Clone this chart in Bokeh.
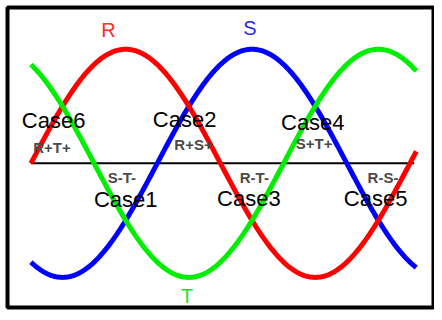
import numpy as np
from bokeh.plotting import figure
from bokeh.core.properties import value
from bokeh.embed import file_html
from bokeh.resources import INLINE

# --- data ---
phase_names = ["R", "S", "T"]
phase_shift_deg = [0, -120, 120]          # R = sin(t), S = sin(t-120), T = sin(t+120)
phase_colors = ["#ff0000", "#0000ff", "#00ee00"]
theta_start, theta_end = 0, 366            # drawn span of the waves (degrees)
zero_line = [0, 364]                       # horizontal reference line span

phase_label_theta = [73.7, 208, 148.3]
phase_label_level = [1.17, 1.19, -1.16]
phase_label_colors = ["#ff2a2a", "#2a2aee", "#22dd22"]

case_labels = ["Case6", "Case2", "Case4", "Case1", "Case3", "Case5"]
case_theta = [21.5, 146, 267.7, 90, 207, 327.4]
case_level = [0.372, 0.380, 0.355, -0.318, -0.312, -0.312]

sign_labels = ["R+T+", "R+S+", "S+T+", "S-T-", "R-T-", "R-S-"]
sign_theta = [20.0, 154.4, 269, 86.3, 212.2, 334.4]
sign_level = [0.137, 0.167, 0.171, -0.128, -0.120, -0.120]

FONT = value("Liberation Sans")

p = figure(width=434, height=312, x_range=(-22.26, 383.3), y_range=(-1.264, 1.366),
           output_backend="svg", toolbar_location=None,
           x_axis_type=None, y_axis_type=None,
           min_border_left=7, min_border_right=0, min_border_top=7, min_border_bottom=5)
p.grid.visible = False
p.outline_line_color = "black"
p.outline_line_width = 4
p.background_fill_color = "white"
p.border_fill_color = "white"

# zero line
p.line(zero_line, [0, 0], line_color="black", line_width=2)

theta = np.arange(theta_start, theta_end + 0.5, 1.0)
order = [1, 0, 2]
for i in order:
    y = np.sin(np.radians(theta + phase_shift_deg[i]))
    p.line(theta, y, line_color=phase_colors[i], line_width=5, line_cap="butt")

p.text(x=phase_label_theta, y=phase_label_level, text=phase_names,
       text_color=phase_label_colors, text_font=FONT, text_font_size="20px",
       text_align="center", text_baseline="middle")

p.text(x=case_theta, y=case_level, text=case_labels,
       text_color="black", text_font=FONT, text_font_size="22px",
       text_align="center", text_baseline="middle")

p.text(x=sign_theta, y=sign_level, text=sign_labels,
       text_color="#4a4a4a", text_font=FONT, text_font_size="15px",
       text_font_style="bold", text_align="center", text_baseline="middle")

open("out.html", "w").write(file_html(p, INLINE))
